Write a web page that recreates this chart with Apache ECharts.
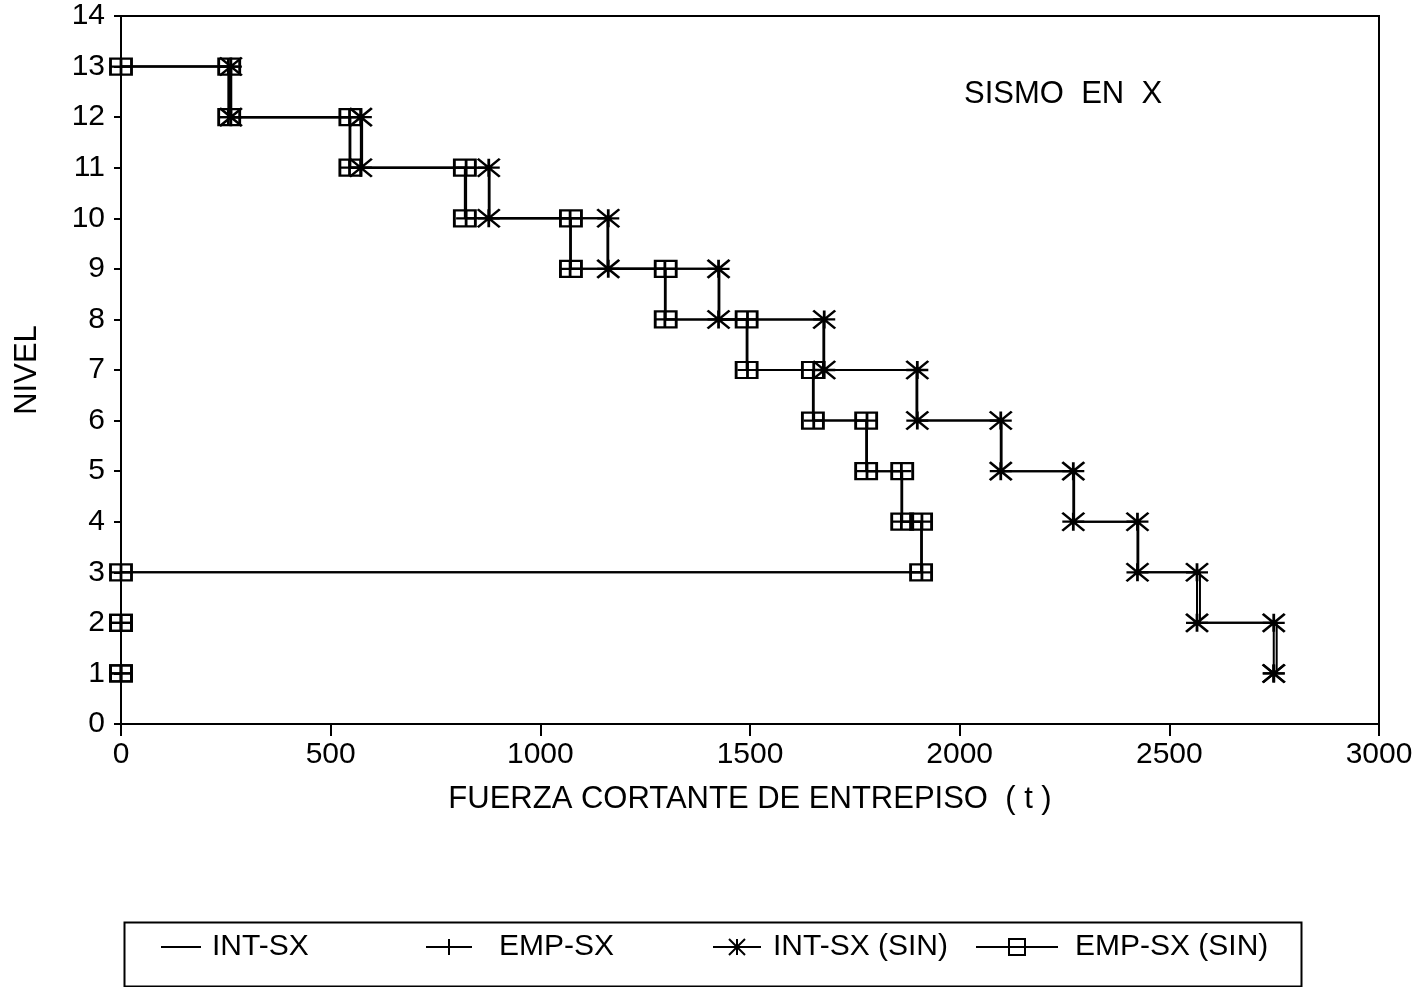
<!DOCTYPE html>
<html>
<head>
<meta charset="utf-8">
<script src="https://cdn.jsdelivr.net/npm/echarts@6/dist/echarts.min.js"></script>
<style>
html,body{margin:0;padding:0;background:#fff;}
#chart{width:1418px;height:987px;}
</style>
</head>
<body>
<div id="chart"></div>
<script>
// Levels (top to bottom) and story shear per level (t)
var levels = [13, 12, 11, 10, 9, 8, 7, 6, 5, 4, 3, 2, 1];
var intSx    = [263, 575, 879, 1160, 1427, 1675, 1897, 2100, 2273, 2426, 2573, 2756, 2756];
var empSx    = [256, 545, 823, 1071, 1297, 1494, 1652, 1779, 1861, 1910, 0, 0, 0];
var intSxSin = [262, 572, 877, 1162, 1425, 1677, 1899, 2098, 2271, 2424, 2566, 2749, 2749];
var empSxSin = [258, 547, 820, 1073, 1299, 1492, 1650, 1777, 1863, 1908, 0, 0, 0];
var xTicks = [0, 500, 1000, 1500, 2000, 2500, 3000];
var names = ['INT-SX', 'EMP-SX', 'INT-SX (SIN)', 'EMP-SX (SIN)'];

// staircase: at each level a horizontal run from the shear above to this level's shear
function stair(vals) {
  var pts = [];
  var prev = 0;
  for (var i = 0; i < levels.length; i++) {
    pts.push([prev, levels[i]]);
    pts.push([vals[i], levels[i]]);
    prev = vals[i];
  }
  return pts;
}

var FONT = 'Liberation Sans, Arial, Helvetica, sans-serif';
var plusPath = 'path://M0,5H10M5,0V10';
var starPath = 'path://M0,0L10,10M10,0L0,10M5,0V10M0,5H10';

var chart = echarts.init(document.getElementById('chart'), null, {renderer: 'canvas'});
var baseSeries = {
  type: 'line', animation: false, clip: false, color: '#000',
  lineStyle: {color: '#000', width: 2}
};
var legendText = {fontFamily: FONT, fontSize: 30, color: '#000'};
var option = {
  backgroundColor: '#fff',
  textStyle: {fontFamily: FONT, color: '#000'},
  title: {
    text: 'SISMO  EN  X', left: 964, top: 79, padding: 0,
    textStyle: {fontFamily: FONT, fontSize: 31, fontWeight: 'normal', color: '#000'}
  },
  grid: {left: 121, right: 39, top: 16, bottom: 263, show: true, borderColor: '#000', borderWidth: 2, backgroundColor: 'transparent'},
  xAxis: {
    type: 'value', min: 0, max: 3000, interval: 500,
    name: 'FUERZA CORTANTE DE ENTREPISO  ( t )', nameLocation: 'middle', nameGap: 60,
    nameTextStyle: {fontFamily: FONT, fontSize: 31, color: '#000'},
    axisLine: {show: true, lineStyle: {color: '#000', width: 2}},
    axisTick: {show: true, inside: false, length: 12, lineStyle: {color: '#000', width: 2}},
    axisLabel: {fontFamily: FONT, fontSize: 30, color: '#000', margin: 16,
      formatter: function (v) { return xTicks.indexOf(v) >= 0 ? String(v) : ''; }},
    splitLine: {show: false}
  },
  yAxis: {
    type: 'value', min: 0, max: 14, interval: 1,
    name: 'NIVEL', nameLocation: 'middle', nameGap: 78,
    nameTextStyle: {fontFamily: FONT, fontSize: 31, color: '#000'},
    axisLine: {show: true, lineStyle: {color: '#000', width: 2}},
    axisTick: {show: true, inside: false, length: 7, lineStyle: {color: '#000', width: 2}},
    axisLabel: {fontFamily: FONT, fontSize: 30, color: '#000', margin: 16},
    splitLine: {show: false}
  },
  legend: [
    {data: [names[0]], left: 160, top: 932, padding: 0, itemWidth: 40, itemHeight: 20, itemGap: 0,
     itemStyle: {opacity: 0}, lineStyle: {width: 2},
     textStyle: Object.assign({padding: [0, 0, 0, 6]}, legendText)},
    {data: [names[1]], left: 425, top: 932, padding: 0, itemWidth: 46, itemHeight: 20, itemGap: 0,
     textStyle: Object.assign({padding: [0, 0, 0, 22]}, legendText)},
    {data: [names[2]], left: 712, top: 932, padding: 0, itemWidth: 48, itemHeight: 20, itemGap: 0,
     textStyle: Object.assign({padding: [0, 0, 0, 7]}, legendText)},
    {data: [names[3]], left: 975, top: 932, padding: 0, itemWidth: 82, itemHeight: 20, itemGap: 0,
     textStyle: Object.assign({padding: [0, 0, 0, 12]}, legendText)}
  ],
  graphic: [{
    type: 'rect', left: 122, top: 920, z: 0, silent: true,
    shape: {width: 1177, height: 64},
    style: {fill: 'none', stroke: '#000', lineWidth: 2}
  }],
  series: [
    Object.assign({}, baseSeries, {
      name: names[0], data: stair(intSx), symbol: 'none', showSymbol: false
    }),
    Object.assign({}, baseSeries, {
      name: names[1], data: stair(empSx), symbol: plusPath, symbolSize: [20, 16],
      itemStyle: {color: 'rgba(0,0,0,0)', borderColor: '#000', borderWidth: 2.5}
    }),
    Object.assign({}, baseSeries, {
      name: names[2], data: stair(intSxSin).slice(1), symbol: starPath, symbolSize: [22, 18],
      itemStyle: {color: 'rgba(0,0,0,0)', borderColor: '#000', borderWidth: 2.5}
    }),
    Object.assign({}, baseSeries, {
      name: names[3], data: stair(empSxSin), symbol: 'rect', symbolSize: [21, 16],
      itemStyle: {color: 'rgba(0,0,0,0)', borderColor: '#000', borderWidth: 2.5}
    })
  ]
};
chart.setOption(option);
</script>
</body>
</html>
